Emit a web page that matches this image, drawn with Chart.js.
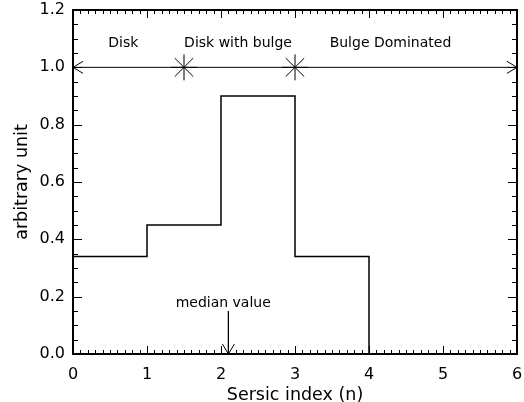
<!DOCTYPE html>
<html>
<head>
<meta charset="utf-8">
<script src="https://cdn.jsdelivr.net/npm/chart.js@4.4.0/dist/chart.umd.min.js"></script>
<style>
  html, body { margin: 0; padding: 0; background: #fff; }
  #wrap { width: 524px; height: 402px; }
</style>
</head>
<body>
<div id="wrap"><canvas id="chart" width="524" height="402"></canvas></div>
<script>
// histogram: left bin edges and heights
const binEdges = [0, 1, 2, 3, 4];
const binHeights = [0.34, 0.45, 0.90, 0.34];

// regions along the top
const regionBounds = [0, 1.5, 3, 6];
const regionLineY = 1.0;
const regionLabels = ['Disk', 'Disk with bulge', 'Bulge Dominated'];
const regionLabelX = [0.68, 2.23, 4.29];
const regionLabelY = 1.085;

// median marker
const medianValue = 2.1;
const medianArrowTop = 0.15;
const medianLabel = 'median value';
const medianLabelX = 2.03;
const medianLabelY = 0.178;

const xMin = 0, xMax = 6, yMin = 0, yMax = 1.2;

const histPoints = binEdges.map((e, i) => ({ x: e, y: i < binHeights.length ? binHeights[i] : 0 }));
const regionPoints = regionBounds.map(b => ({ x: b, y: regionLineY }));
const medianPoints = [{ x: medianValue, y: medianArrowTop }, { x: medianValue, y: 0 }];

const FONT = 'DejaVu Sans';

function arrowHead(ctx, tipX, tipY, dx, dy) {
  // dx,dy: unit direction the arrow points to
  const len = 10, half = 6;
  const bx = tipX - dx * len, by = tipY - dy * len;
  ctx.beginPath();
  ctx.moveTo(bx - dy * half, by + dx * half);
  ctx.lineTo(tipX, tipY);
  ctx.lineTo(bx + dy * half, by - dx * half);
  ctx.stroke();
}

// no extra room for overflowing tick labels, the frame is fixed
function noPad(s) {
  s.paddingTop = 0; s.paddingBottom = 0; s.paddingLeft = 0; s.paddingRight = 0;
}

const decorPlugin = {
  id: 'decor',
  afterDatasetsDraw(chart) {
    const { ctx, chartArea: a, scales: { x, y } } = chart;
    ctx.save();
    ctx.strokeStyle = '#000';
    ctx.lineWidth = 1;

    // arrowheads on the region line
    const ry = y.getPixelForValue(regionLineY);
    arrowHead(ctx, x.getPixelForValue(regionBounds[0]), ry, -1, 0);
    arrowHead(ctx, x.getPixelForValue(regionBounds[regionBounds.length - 1]), ry, 1, 0);

    // arrowhead on the median marker
    arrowHead(ctx, x.getPixelForValue(medianValue), y.getPixelForValue(0), 0, 1);

    // text
    ctx.fillStyle = '#000';
    ctx.font = '14px "' + FONT + '"';
    ctx.textAlign = 'center';
    ctx.textBaseline = 'middle';
    regionLabels.forEach((t, i) => {
      ctx.fillText(t, x.getPixelForValue(regionLabelX[i]), y.getPixelForValue(regionLabelY));
    });
    ctx.fillText(medianLabel, x.getPixelForValue(medianLabelX), y.getPixelForValue(medianLabelY));

    // frame
    ctx.lineWidth = 2;
    ctx.strokeRect(a.left, a.top, a.right - a.left, a.bottom - a.top);

    // inward ticks on all four sides
    ctx.lineWidth = 1;
    ctx.beginPath();
    for (let i = 0; i <= 60; i++) {
      const v = i / 10;
      const px = Math.round(x.getPixelForValue(v)) + 0.5;
      const len = i % 10 === 0 ? 8 : 4;
      ctx.moveTo(px, a.bottom); ctx.lineTo(px, a.bottom - len);
      ctx.moveTo(px, a.top); ctx.lineTo(px, a.top + len);
    }
    for (let i = 0; i <= 24; i++) {
      const v = i * 0.05;
      const py = Math.round(y.getPixelForValue(v)) + 0.5;
      const len = i % 4 === 0 ? 9 : 5;
      ctx.moveTo(a.left, py); ctx.lineTo(a.left + len, py);
      ctx.moveTo(a.right, py); ctx.lineTo(a.right - len, py);
    }
    ctx.stroke();
    ctx.restore();
  }
};

new Chart(document.getElementById('chart'), {
  type: 'line',
  data: {
    datasets: [
      {
        data: histPoints,
        stepped: 'before',
        borderColor: '#000',
        borderWidth: 1.5,
        pointRadius: 0,
        fill: false
      },
      {
        data: regionPoints,
        borderColor: '#000',
        borderWidth: 1,
        pointStyle: 'star',
        pointRadius: regionBounds.map((b, i) => (i === 0 || i === regionBounds.length - 1) ? 0 : 13),
        pointBorderColor: '#000',
        pointBorderWidth: 1,
        fill: false
      },
      {
        data: medianPoints,
        borderColor: '#000',
        borderWidth: 1,
        pointRadius: 0,
        fill: false
      }
    ]
  },
  options: {
    responsive: false,
    animation: false,
    layout: { padding: { top: 10, right: 7, left: 0, bottom: 0 } },
    plugins: {
      legend: { display: false },
      tooltip: { enabled: false }
    },
    scales: {
      x: {
        type: 'linear',
        min: xMin,
        max: xMax,
        afterFit(s) { s.height = 48; noPad(s); },
        grid: { display: false, drawTicks: false },
        border: { display: false },
        ticks: {
          stepSize: 1,
          padding: 11,
          color: '#000',
          font: { family: FONT, size: 16 }
        },
        title: {
          display: true,
          text: 'Sersic index (n)',
          color: '#000',
          font: { family: FONT, size: 17.5 },
          padding: { top: 0, bottom: -4 }
        }
      },
      y: {
        type: 'linear',
        min: yMin,
        max: yMax,
        afterFit(s) { s.width = 73; noPad(s); },
        grid: { display: false, drawTicks: false },
        border: { display: false },
        ticks: {
          stepSize: 0.2,
          padding: 8,
          color: '#000',
          font: { family: FONT, size: 16 },
          callback: v => v.toFixed(1)
        },
        title: {
          display: true,
          text: 'arbitrary unit',
          color: '#000',
          font: { family: FONT, size: 17.5 },
          padding: { top: 12, bottom: 0 }
        }
      }
    }
  },
  plugins: [decorPlugin]
});
</script>
</body>
</html>
